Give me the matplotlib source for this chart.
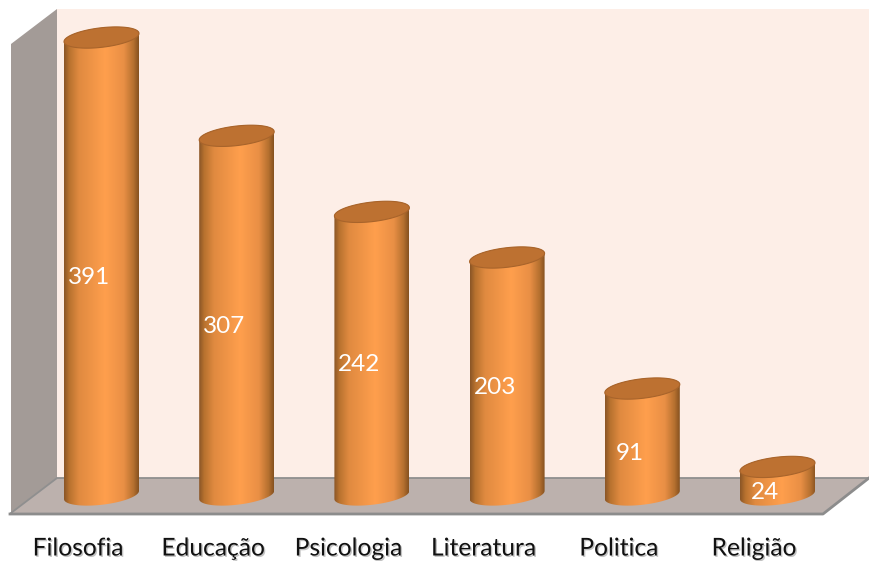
import numpy as np
import matplotlib.pyplot as plt
import matplotlib.patheffects as pe
from matplotlib.colors import LinearSegmentedColormap
from matplotlib.patches import Polygon, PathPatch
from matplotlib.path import Path

categories = ["Filosofia", "Educação", "Psicologia", "Literatura", "Politica", "Religião"]
values = [391, 307, 242, 203, 91, 24]

W, H = 869, 561
x_step = 135.2   # pixels between columns
y_scale = 1.17   # pixels per unit
x0, y0 = 101.5, 495  # pixel position of first column base

plt.rcParams["font.family"] = ["Lato", "DejaVu Sans"]

fig = plt.figure(figsize=(W / 100, H / 100), dpi=100)

# chart box in pixel coordinates
bg = fig.add_axes([0, 0, 1, 1])
bg.set_xlim(0, W)
bg.set_ylim(H, 0)
bg.axis("off")
bg.add_patch(Polygon([(57, 9), (869, 9), (869, 478), (57, 478)], fc="#fdeee7", ec="none"))
bg.add_patch(Polygon([(11, 44), (57, 9), (57, 478), (11, 513)], fc="#a39b97", ec="none"))
bg.add_patch(Polygon([(57, 478), (869, 478), (823, 513), (11, 513)], fc="#bcb1ad", ec="none"))
bg.plot([869, 57, 11], [478, 478, 513], color="#8f8f8f", lw=1.3)
bg.plot([10, 823, 869], [514, 514, 478], color="#8c8c8c", lw=2)

# columns use the real value scale
ax = fig.add_axes([0, 0, 1, 1])
ax.set_xlim(-x0 / x_step, (W - x0) / x_step)
ax.set_ylim(-(H - y0) / y_scale, y0 / y_scale)
ax.axis("off")
ax.patch.set_alpha(0)

cmap = LinearSegmentedColormap.from_list(
    "column",
    [(0, "#8a5526"), (0.07, "#b8722f"), (0.2, "#e08a40"), (0.55, "#ff9f4d"),
     (0.8, "#e98f45"), (0.93, "#b5702f"), (1, "#85511f")],
)
grad = np.linspace(0, 1, 256).reshape(1, -1)

a, b, tilt = 37.5, 9.8, 0.11
t = np.linspace(0, 2 * np.pi, 100)


def ellipse(cx, val, tt):
    px = a * np.cos(tt)
    py = b * np.sin(tt) + tilt * px
    return cx + px / x_step, val + py / y_scale


for i, v in enumerate(values):
    # body: back half of top rim down to the front of the bottom rim
    tx, ty = ellipse(i, v, np.linspace(np.pi, 0, 50))
    bx, by = ellipse(i, 0, np.linspace(0, -np.pi, 50))
    verts = np.column_stack([np.r_[tx, bx], np.r_[ty, by]])
    body = PathPatch(Path(np.vstack([verts, verts[0]]), closed=True), fc="none", ec="none")
    ax.add_patch(body)
    im = ax.imshow(grad, cmap=cmap, aspect="auto", zorder=2,
                   extent=(i - a / x_step, i + a / x_step, -15, v + 15))
    im.set_clip_path(body)

    ex, ey = ellipse(i, v, t)
    ax.fill(ex, ey, fc="#bd7131", ec="#a8642b", lw=0.8, zorder=3)

    ax.annotate(str(v), (i, v / 2), xytext=(-12.5 * 0.72, -11.5 * 0.72),
                textcoords="offset points", ha="center", va="center",
                color="white", fontsize=17.5, zorder=4)
    ax.annotate(categories[i], (i, 0), xytext=(-23.5 * 0.72, -53 * 0.72),
                textcoords="offset points", ha="center", va="center",
                color="#111111", fontsize=17.7, zorder=4,
                path_effects=[pe.withSimplePatchShadow(offset=(1, -1), shadow_rgbFace="#888888", alpha=0.5)])

ax.set_xlim(-x0 / x_step, (W - x0) / x_step)
ax.set_ylim(-(H - y0) / y_scale, y0 / y_scale)

fig.savefig("out.png", dpi=100)
